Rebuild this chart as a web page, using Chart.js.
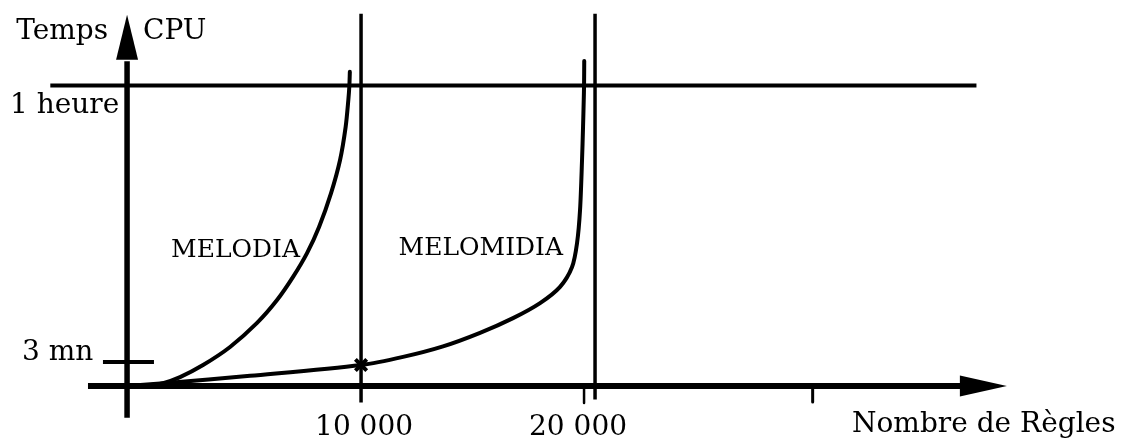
<!DOCTYPE html>
<html>
<head>
<meta charset="utf-8">
<script src="https://cdn.jsdelivr.net/npm/chart.js@4/dist/chart.umd.min.js"></script>
<style>
  body { margin: 0; background: #fff; }
  #wrap { width: 1122px; height: 439px; position: relative; }
</style>
</head>
<body>
<div id="wrap"><canvas id="chart"></canvas></div>
<script>
// x = nombre de règles, y = temps CPU (schematic units: 100 = 1 heure)
const xTickValues = [10000, 20000];
const xTickLabels = ["10 000", "20 000"];
const xMinorTicks = [19530, 29300]; // unlabelled ticks below the x axis
const yTickValues = [8, 100];
const yTickLabels = ["3 mn", "1 heure"];

const melodiaX = [0, 769, 1538, 2265, 3248, 4402, 5556, 6410, 7094, 7692, 8205, 8718, 9103, 9342, 9457, 9500, 9521];
const melodiaY = [0, 0.2, 1.0, 3.0, 7.0, 13.0, 21.0, 28.6, 36.3, 44.2, 52.9, 64.2, 75.2, 86.2, 95.2, 99.8, 104.5];

const melomidiaX = [0, 1709, 5256, 10000, 11795, 13504, 15085, 16496, 17650, 18504, 19017, 19231, 19359, 19444, 19487, 19517, 19530, 19538];
const melomidiaY = [0, 1.0, 3.4, 7.0, 9.7, 13.2, 17.7, 22.6, 27.6, 33.0, 39.6, 47.6, 58.6, 75.2, 86.2, 95.2, 99.8, 108.1];

// axis extents
const xAxisStart = -1670, xAxisEnd = 37600;
const yAxisStart = -10.5, yAxisEnd = 123.5;
const hourLineX = [-3280, 36300];
const gridTop = 123.8, gridBottom = [-5.5, -4.5];

const toPts = (xs, ys) => xs.map((x, i) => ({ x: x, y: ys[i] }));

function lineSet(data, width) {
  return {
    data: data, showLine: true, borderColor: "#000", borderWidth: width,
    pointRadius: 0, tension: 0, fill: false, borderCapStyle: "butt"
  };
}

const datasets = [
  lineSet([{ x: xAxisStart, y: 0 }, { x: 36000, y: 0 }], 6),
  lineSet([{ x: 0, y: yAxisStart }, { x: 0, y: 108 }], 5.5),
  lineSet([{ x: hourLineX[0], y: yTickValues[1] }, { x: hourLineX[1], y: yTickValues[1] }], 4),
  lineSet([{ x: xTickValues[0], y: gridBottom[0] }, { x: xTickValues[0], y: gridTop }], 3.5),
  lineSet([{ x: xTickValues[1], y: gridBottom[1] }, { x: xTickValues[1], y: gridTop }], 3.5),
  lineSet([{ x: -1030, y: yTickValues[0] }, { x: 1150, y: yTickValues[0] }], 4),
  lineSet([{ x: xMinorTicks[0], y: 0 }, { x: xMinorTicks[0], y: -5.6 }], 2.5),
  lineSet([{ x: xMinorTicks[1], y: 0 }, { x: xMinorTicks[1], y: -5.3 }], 3),
  Object.assign(lineSet(toPts(melodiaX, melodiaY), 4), { tension: 0.3, borderCapStyle: "round" }),
  Object.assign(lineSet(toPts(melomidiaX, melomidiaY), 4), { tension: 0.3, borderCapStyle: "round" }),
  {
    data: [{ x: melomidiaX[3], y: melomidiaY[3] }], showLine: false,
    pointStyle: "crossRot", pointRadius: 8, borderColor: "#000", borderWidth: 4
  }
];

const serif = '"DejaVu Serif", serif';

const decorPlugin = {
  id: "decor",
  afterDatasetsDraw(chart) {
    const ctx = chart.ctx;
    const xs = chart.scales.x, ys = chart.scales.y;
    const x0 = xs.getPixelForValue(0), y0 = ys.getPixelForValue(0);
    ctx.save();
    ctx.fillStyle = "#000";

    // arrow heads
    const yTip = ys.getPixelForValue(yAxisEnd);
    ctx.beginPath();
    ctx.moveTo(x0, yTip);
    ctx.lineTo(x0 + 11, yTip + 45);
    ctx.lineTo(x0 - 11, yTip + 45);
    ctx.closePath();
    ctx.fill();

    const xTip = xs.getPixelForValue(xAxisEnd);
    ctx.beginPath();
    ctx.moveTo(xTip, y0);
    ctx.lineTo(xTip - 47, y0 - 10.5);
    ctx.lineTo(xTip - 47, y0 + 10.5);
    ctx.closePath();
    ctx.fill();

    // axis titles
    ctx.font = "28px " + serif;
    ctx.textBaseline = "alphabetic";
    ctx.textAlign = "right";
    ctx.fillText("Temps", x0 - 19, 39);
    ctx.textAlign = "left";
    ctx.fillText("CPU", x0 + 16, 39);
    ctx.fillText("Nombre de Règles", 852, 432);

    // y tick labels
    const yOffsets = [-2, 28];
    const yLeft = [22, 10];
    yTickLabels.forEach((t, i) => {
      ctx.fillText(t, yLeft[i], ys.getPixelForValue(yTickValues[i]) + yOffsets[i]);
    });

    // x tick labels
    ctx.textAlign = "center";
    const xOffsets = [3, -17];
    xTickLabels.forEach((t, i) => {
      ctx.fillText(t, xs.getPixelForValue(xTickValues[i]) + xOffsets[i], 435);
    });

    // curve names
    ctx.font = "25px " + serif;
    ctx.textAlign = "right";
    ctx.fillText("MELODIA", 300, 257);
    ctx.fillText("MELOMIDIA", 563, 255);
    ctx.restore();
  }
};

new Chart(document.getElementById("chart"), {
  type: "scatter",
  data: { datasets: datasets },
  options: {
    responsive: true,
    maintainAspectRatio: false,
    animation: false,
    layout: { autoPadding: false, padding: 0 },
    plugins: { legend: { display: false }, tooltip: { enabled: false } },
    scales: {
      x: { type: "linear", min: -5430, max: 42520, display: false },
      y: { type: "linear", min: -17.6, max: 128.4, display: false }
    },
    elements: { line: { borderJoinStyle: "round" } },
    clip: false
  },
  plugins: [decorPlugin]
});
</script>
</body>
</html>
